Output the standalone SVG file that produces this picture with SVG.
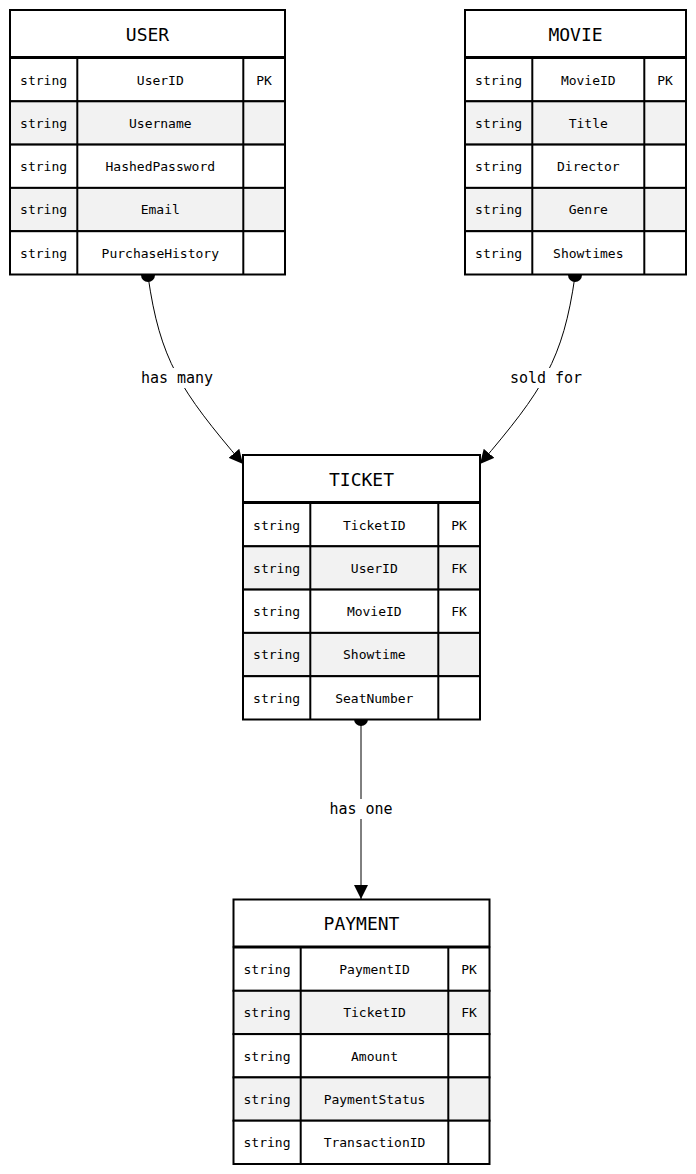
<svg xmlns="http://www.w3.org/2000/svg" width="696" height="1174" viewBox="0 0 696 1174">
  <style>
    .box { fill: #ffffff; stroke: #000000; stroke-width: 2; }
    .alt { fill: #f2f2f2; stroke: #000000; stroke-width: 2; }
    .div { stroke: #000000; stroke-width: 2; }
    .title { font-family: "DejaVu Sans Mono", "Liberation Mono", monospace; font-size: 18px; fill: #000; text-anchor: middle; dominant-baseline: central; }
    .cell { font-family: "DejaVu Sans Mono", "Liberation Mono", monospace; font-size: 13px; fill: #000; text-anchor: middle; dominant-baseline: central; }
    .lbl { font-family: "DejaVu Sans Mono", "Liberation Mono", monospace; font-size: 15px; fill: #000; text-anchor: middle; dominant-baseline: central; }
    .edge { fill: none; stroke: #000000; stroke-width: 1; }
  </style>
  <defs>
    <marker id="arrow" viewBox="0 0 14 14" refX="14" refY="7" markerWidth="14" markerHeight="14" markerUnits="userSpaceOnUse" orient="auto">
      <path d="M0,0 L14,7 L0,14 Z" fill="#000"/>
    </marker>
  </defs>
  <rect width="696" height="1174" fill="#ffffff"/>

  <!-- relationships -->
  <g id="connectors">
    <circle cx="148" cy="275" r="7" fill="#000"/>
    <circle cx="575" cy="275" r="7" fill="#000"/>
    <circle cx="361" cy="719" r="7" fill="#000"/>
    <path class="edge" d="M148,276 C160,360 180,390 243,464" marker-end="url(#arrow)"/>
    <path class="edge" d="M575,276 C563,360 543,390 480,464" marker-end="url(#arrow)"/>
    <path class="edge" d="M361,720 L361,899" marker-end="url(#arrow)"/>
    <rect x="139" y="368" width="76" height="20" fill="#fff"/>
    <text class="lbl" x="177" y="378">has many</text>
    <rect x="508" y="368" width="76" height="20" fill="#fff"/>
    <text class="lbl" x="546" y="378">sold for</text>
    <rect x="328" y="799" width="66" height="20" fill="#fff"/>
    <text class="lbl" x="361" y="809">has one</text>
  </g>

  <!-- USER -->
  <g id="user">
    <rect class="box" x="10" y="10" width="275" height="47"/>
    <text class="title" x="147.5" y="34">USER</text>
    <rect class="box" x="10" y="58" width="275" height="43.3"/>
    <rect class="alt" x="10" y="101.3" width="275" height="43.3"/>
    <rect class="box" x="10" y="144.6" width="275" height="43.3"/>
    <rect class="alt" x="10" y="187.9" width="275" height="43.3"/>
    <rect class="box" x="10" y="231.2" width="275" height="43.3"/>
    <line class="div" x1="77.3" y1="58" x2="77.3" y2="274.5"/>
    <line class="div" x1="243.3" y1="58" x2="243.3" y2="274.5"/>
    <text class="cell" x="43.6" y="80">string</text>
    <text class="cell" x="160.3" y="80">UserID</text>
    <text class="cell" x="264" y="80">PK</text>
    <text class="cell" x="43.6" y="123.3">string</text>
    <text class="cell" x="160.3" y="123.3">Username</text>
    <text class="cell" x="43.6" y="166.6">string</text>
    <text class="cell" x="160.3" y="166.6">HashedPassword</text>
    <text class="cell" x="43.6" y="209.9">string</text>
    <text class="cell" x="160.3" y="209.9">Email</text>
    <text class="cell" x="43.6" y="253.2">string</text>
    <text class="cell" x="160.3" y="253.2">PurchaseHistory</text>
  </g>

  <!-- MOVIE -->
  <g id="movie">
    <rect class="box" x="465" y="10" width="221" height="47"/>
    <text class="title" x="575.5" y="34">MOVIE</text>
    <rect class="box" x="465" y="58" width="221" height="43.3"/>
    <rect class="alt" x="465" y="101.3" width="221" height="43.3"/>
    <rect class="box" x="465" y="144.6" width="221" height="43.3"/>
    <rect class="alt" x="465" y="187.9" width="221" height="43.3"/>
    <rect class="box" x="465" y="231.2" width="221" height="43.3"/>
    <line class="div" x1="532.3" y1="58" x2="532.3" y2="274.5"/>
    <line class="div" x1="644.3" y1="58" x2="644.3" y2="274.5"/>
    <text class="cell" x="498.6" y="80">string</text>
    <text class="cell" x="588.3" y="80">MovieID</text>
    <text class="cell" x="665" y="80">PK</text>
    <text class="cell" x="498.6" y="123.3">string</text>
    <text class="cell" x="588.3" y="123.3">Title</text>
    <text class="cell" x="498.6" y="166.6">string</text>
    <text class="cell" x="588.3" y="166.6">Director</text>
    <text class="cell" x="498.6" y="209.9">string</text>
    <text class="cell" x="588.3" y="209.9">Genre</text>
    <text class="cell" x="498.6" y="253.2">string</text>
    <text class="cell" x="588.3" y="253.2">Showtimes</text>
  </g>

  <!-- TICKET -->
  <g id="ticket">
    <rect class="box" x="243" y="455" width="237" height="47"/>
    <text class="title" x="361.5" y="479">TICKET</text>
    <rect class="box" x="243" y="503" width="237" height="43.3"/>
    <rect class="alt" x="243" y="546.3" width="237" height="43.3"/>
    <rect class="box" x="243" y="589.6" width="237" height="43.3"/>
    <rect class="alt" x="243" y="632.9" width="237" height="43.3"/>
    <rect class="box" x="243" y="676.2" width="237" height="43.3"/>
    <line class="div" x1="310.3" y1="503" x2="310.3" y2="719.5"/>
    <line class="div" x1="438.3" y1="503" x2="438.3" y2="719.5"/>
    <text class="cell" x="276.6" y="525">string</text>
    <text class="cell" x="374.3" y="525">TicketID</text>
    <text class="cell" x="459" y="525">PK</text>
    <text class="cell" x="276.6" y="568.3">string</text>
    <text class="cell" x="374.3" y="568.3">UserID</text>
    <text class="cell" x="459" y="568.3">FK</text>
    <text class="cell" x="276.6" y="611.6">string</text>
    <text class="cell" x="374.3" y="611.6">MovieID</text>
    <text class="cell" x="459" y="611.6">FK</text>
    <text class="cell" x="276.6" y="654.9">string</text>
    <text class="cell" x="374.3" y="654.9">Showtime</text>
    <text class="cell" x="276.6" y="698.2">string</text>
    <text class="cell" x="374.3" y="698.2">SeatNumber</text>
  </g>

  <!-- PAYMENT -->
  <g id="payment">
    <rect class="box" x="233.5" y="899.5" width="256" height="47"/>
    <text class="title" x="361.5" y="923.5">PAYMENT</text>
    <rect class="box" x="233.5" y="947.5" width="256" height="43.3"/>
    <rect class="alt" x="233.5" y="990.8" width="256" height="43.3"/>
    <rect class="box" x="233.5" y="1034.1" width="256" height="43.3"/>
    <rect class="alt" x="233.5" y="1077.4" width="256" height="43.3"/>
    <rect class="box" x="233.5" y="1120.7" width="256" height="43.3"/>
    <line class="div" x1="300.7" y1="947.5" x2="300.7" y2="1164"/>
    <line class="div" x1="448.3" y1="947.5" x2="448.3" y2="1164"/>
    <text class="cell" x="267" y="969.5">string</text>
    <text class="cell" x="374.5" y="969.5">PaymentID</text>
    <text class="cell" x="469" y="969.5">PK</text>
    <text class="cell" x="267" y="1012.8">string</text>
    <text class="cell" x="374.5" y="1012.8">TicketID</text>
    <text class="cell" x="469" y="1012.8">FK</text>
    <text class="cell" x="267" y="1056.1">string</text>
    <text class="cell" x="374.5" y="1056.1">Amount</text>
    <text class="cell" x="267" y="1099.4">string</text>
    <text class="cell" x="374.5" y="1099.4">PaymentStatus</text>
    <text class="cell" x="267" y="1142.7">string</text>
    <text class="cell" x="374.5" y="1142.7">TransactionID</text>
  </g>
</svg>
